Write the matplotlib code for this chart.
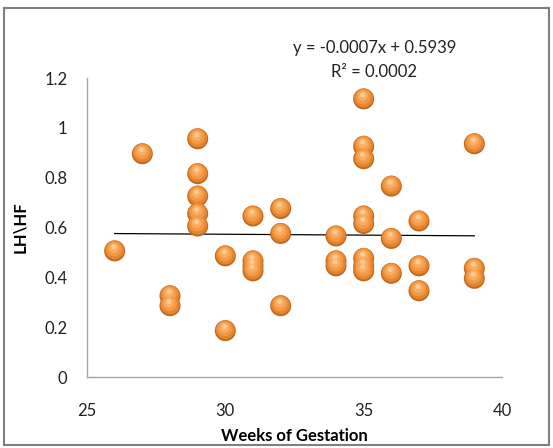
import numpy as np
import matplotlib.pyplot as plt
from matplotlib.patches import Rectangle
from matplotlib.transforms import offset_copy

plt.rcParams['font.family'] = ['Lato', 'DejaVu Sans']

# weeks of gestation and LH\HF ratio per subject
weeks = [26, 27, 28, 28,
         29, 29, 29, 29, 29,
         30, 30,
         31, 31, 31, 31,
         32, 32, 32,
         34, 34, 34,
         35, 35, 35, 35, 35, 35, 35, 35,
         36, 36, 36,
         37, 37, 37,
         39, 39, 39]
lh_hf = [0.51, 0.90, 0.33, 0.29,
         0.96, 0.82, 0.73, 0.66, 0.61,
         0.49, 0.19,
         0.65, 0.47, 0.45, 0.43,
         0.68, 0.58, 0.29,
         0.57, 0.47, 0.45,
         1.12, 0.93, 0.88, 0.65, 0.62, 0.48, 0.45, 0.43,
         0.77, 0.56, 0.42,
         0.63, 0.45, 0.35,
         0.94, 0.44, 0.40]

slope, intercept = -0.0007, 0.5939
r_squared = 0.0002

fig = plt.figure(figsize=(5.53, 4.48), dpi=100)
ax = fig.add_axes([87 / 553, 1 - 377 / 448, (502 - 87) / 553, (377 - 78) / 448])

# shaded "ball" markers: dark rim, body, then a highlight
layers = [
    (0, -1.0, 21, '#bd6a22'),
    (0, 0.0, 19, '#e8842e'),
    (-0.5, 1.0, 15, '#f29a46'),
    (-0.8, 2.0, 10, '#f8ad60'),
    (-1.0, 3.0, 5, '#fcca94'),
]
for dx, dy, d, col in layers:
    tr = offset_copy(ax.transData, fig=fig, x=dx, y=dy, units='dots')
    ax.scatter(weeks, lh_hf, s=(d * 72 / 100) ** 2, color=col,
               edgecolors='none', transform=tr, zorder=3)

# linear trendline
xt = np.array([min(weeks), max(weeks)])
ax.plot(xt, slope * xt + intercept, color='black', lw=0.9, zorder=2)

ax.set_xlim(25, 40)
ax.set_ylim(0, 1.2)
ax.set_xticks([25, 30, 35, 40])
ax.set_yticks([0, 0.2, 0.4, 0.6, 0.8, 1.0, 1.2])
ax.set_yticklabels(['0', '0.2', '0.4', '0.6', '0.8', '1', '1.2'])
ax.tick_params(length=0, labelsize=12, colors='#222222', pad=14)
ax.tick_params(axis='x', pad=19)

for side in ['top', 'right']:
    ax.spines[side].set_visible(False)
for side in ['left', 'bottom']:
    ax.spines[side].set_color('#a6a6a6')
    ax.spines[side].set_linewidth(1.0)

ax.set_xlabel('Weeks of Gestation', fontsize=12, fontweight='bold', labelpad=6)
ax.set_ylabel('LH\\HF', fontsize=12, fontweight='bold', labelpad=12)

fig.text(375 / 553, 1 - 48 / 448, f'y = {slope}x + {intercept}',
         ha='center', va='center', fontsize=12, color='#222222')
fig.text(374 / 553, 1 - 72 / 448, f'R² = {r_squared:.4f}',
         ha='center', va='center', fontsize=12, color='#222222')

# chart area border
fig.patches.append(Rectangle((4 / 553, 1 - 445 / 448), 545 / 553, 437 / 448,
                             transform=fig.transFigure, fill=False,
                             edgecolor='#7f7f7f', lw=1.5))

fig.savefig('out.png', dpi=100)
